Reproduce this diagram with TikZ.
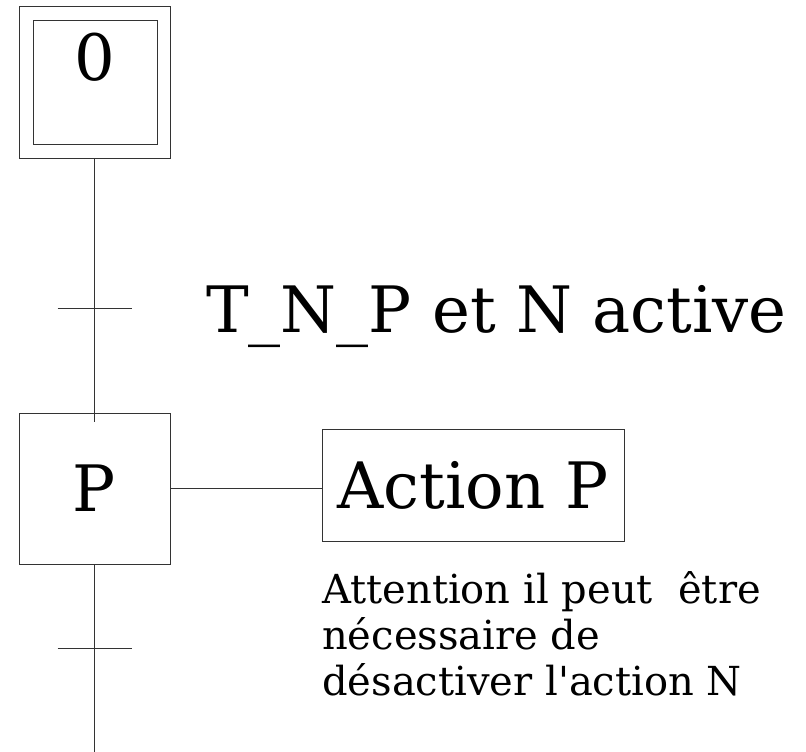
\documentclass[tikz,border=0pt]{standalone}
\usepackage{fontspec}
\setmainfont{DejaVu Serif}
\usetikzlibrary{positioning}
\tikzset{
  etape/.style={draw=black!80,line width=1pt,minimum size=151pt,inner sep=0pt},
  action/.style={draw=black!80,line width=1pt,minimum width=302pt,minimum height=112pt,inner sep=0pt},
  liaison/.style={black!80,line width=1pt},
  bigtxt/.style={font=\fontsize{64}{77}\selectfont,inner sep=0pt},
}
\begin{document}
\begin{tikzpicture}[x=1pt,y=-1pt]
  \useasboundingbox (0,0) rectangle (806,752);

  % Initial step
  \node[etape] (s0) at (94.5,82.5) {};
  \node[etape,minimum size=124pt] (s0in) at (95,82.5) {};
  \node[bigtxt,anchor=base] (s0lbl) at (95,81) {0};

  % Transition 1
  \coordinate (t1) at (94.5,308);
  \coordinate (sPin) at (94.5,422);
  \draw[liaison] (s0.south) -- (sPin);
  \draw[liaison] ([xshift=-37pt]t1) -- ([xshift=37pt]t1);
  \node[bigtxt,anchor=base west] (rec1) at (206,332) {T\_N\_P et N active};

  % Step P and its action
  \node[etape] (sP) at (94.5,488.5) {\fontsize{64}{77}\selectfont P};
  \node[action] (actP) at (473,485) {\fontsize{64}{77}\selectfont Action P};
  \draw[liaison] (sP.east) -- (sP.east -| actP.west);
  \node[anchor=north west,inner sep=0pt,align=left,font=\fontsize{40}{46}\selectfont] (note) at (322,571)
    {Attention il peut~~être\\nécessaire de\\désactiver l\textquotesingle action N};

  % Transition 2
  \coordinate (t2) at (94.5,648);
  \coordinate (fin) at (94.5,752);
  \draw[liaison] (sP.south) -- (fin);
  \draw[liaison] ([xshift=-37pt]t2) -- ([xshift=37pt]t2);
\end{tikzpicture}
\end{document}
